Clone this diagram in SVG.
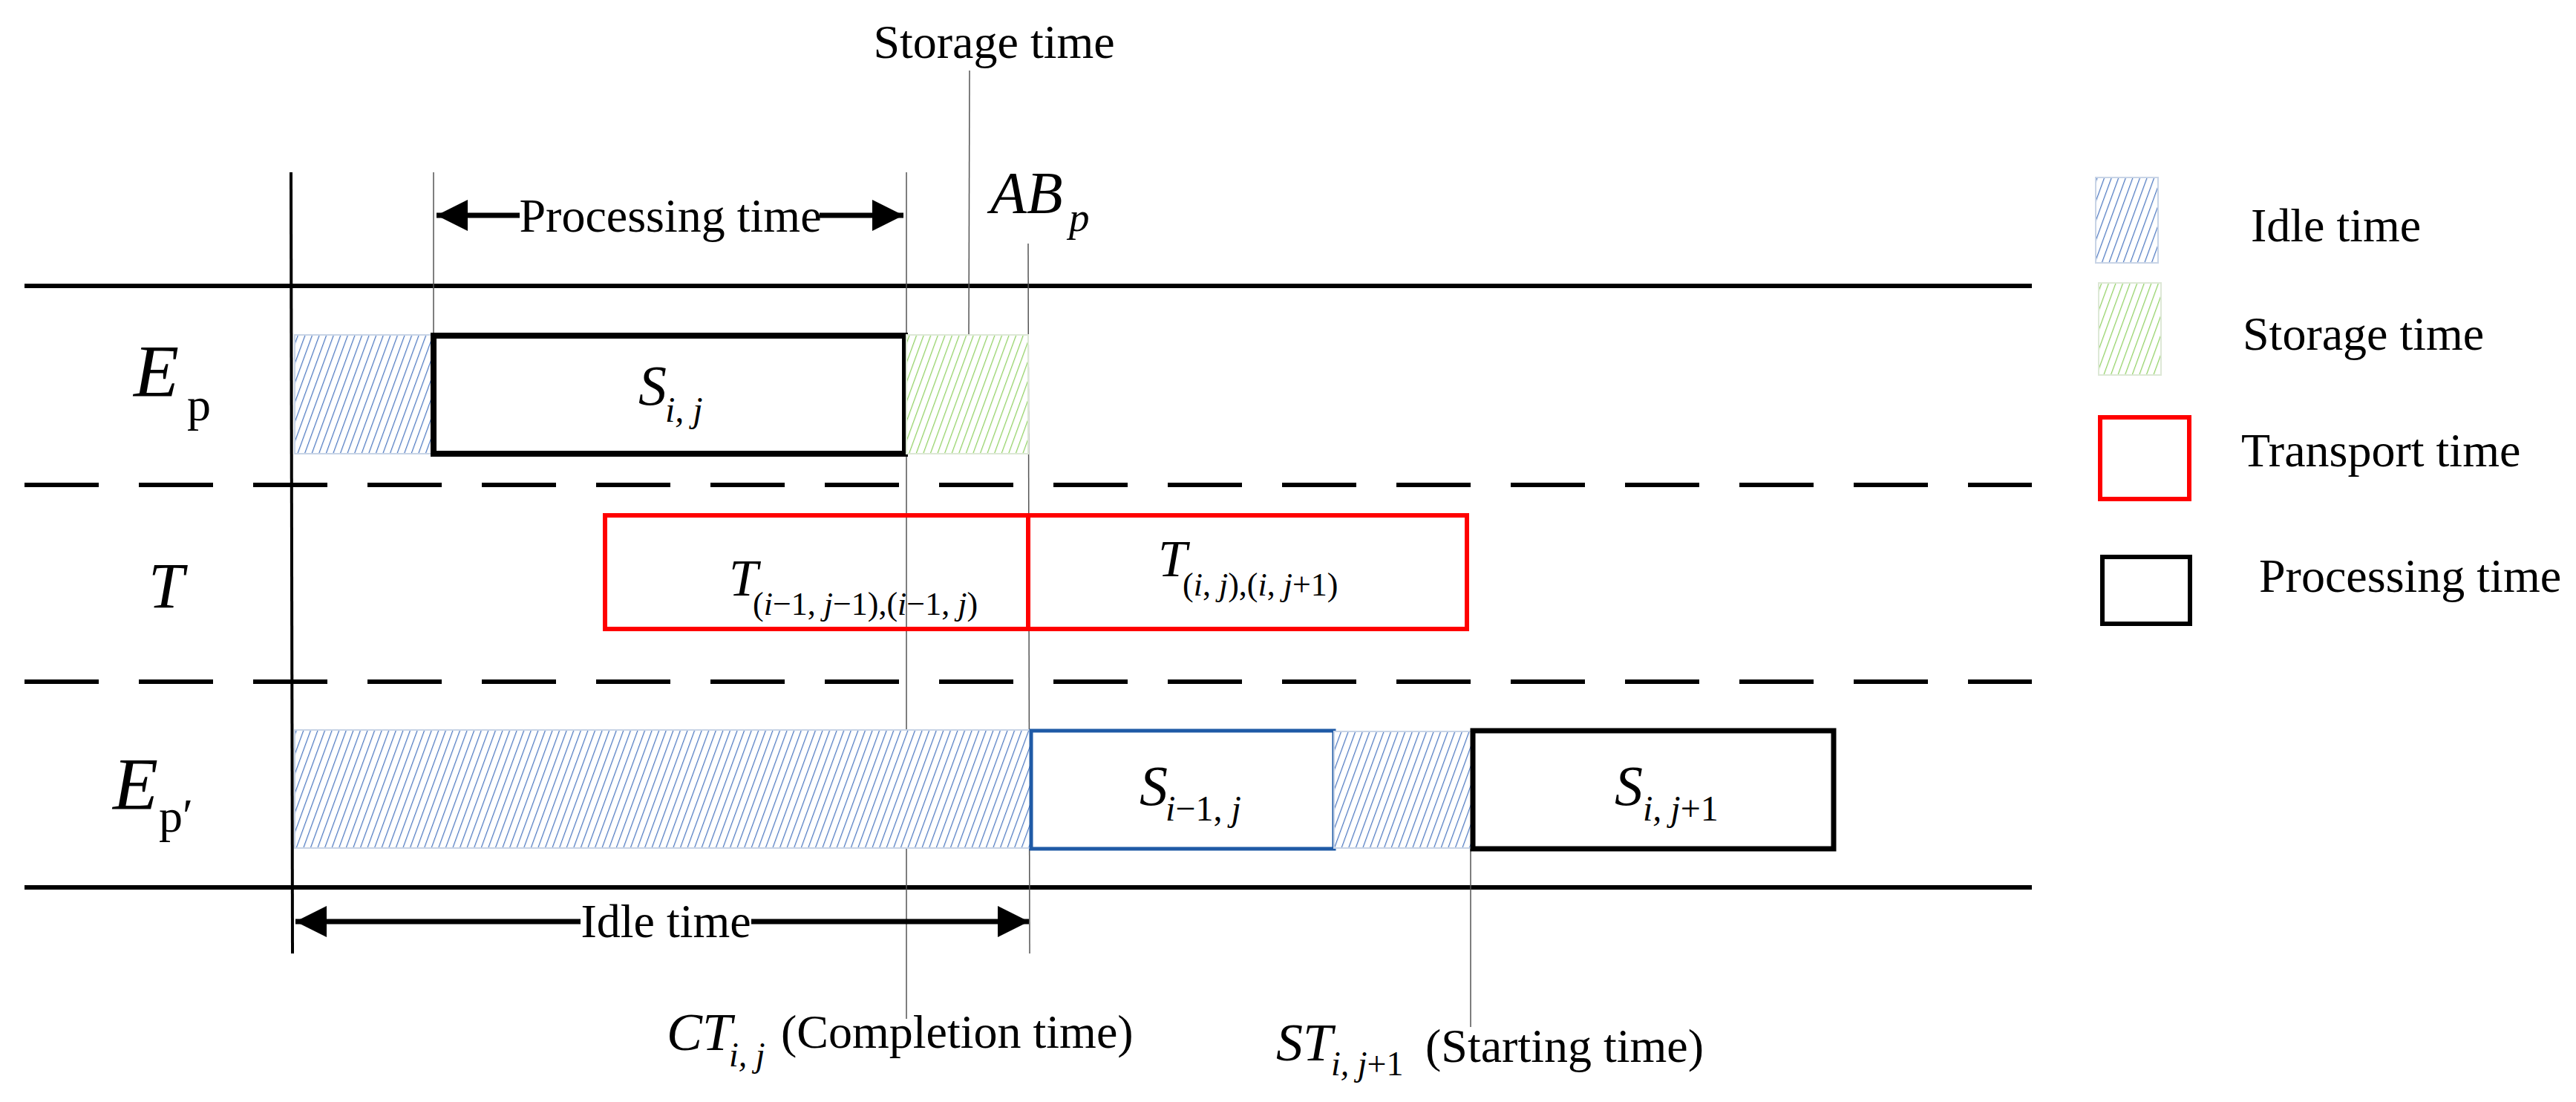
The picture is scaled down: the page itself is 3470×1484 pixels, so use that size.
<svg xmlns="http://www.w3.org/2000/svg" width="3470" height="1484" viewBox="0 0 3470 1484">
<defs>
<pattern id="hb" width="9" height="10" patternUnits="userSpaceOnUse" patternTransform="rotate(20)"><rect width="9" height="10" fill="#fff"/><line x1="0" y1="0" x2="0" y2="10" stroke="#4a76c0" stroke-width="2.4"/></pattern>
<pattern id="hg" width="9" height="10" patternUnits="userSpaceOnUse" patternTransform="rotate(20)"><rect width="9" height="10" fill="#fff"/><line x1="0" y1="0" x2="0" y2="10" stroke="#8fd060" stroke-width="2.4"/></pattern>
<marker id="ah" viewBox="0 0 10 10" refX="10" refY="5" markerWidth="6" markerHeight="7" markerUnits="strokeWidth" orient="auto"><path d="M0,0 L10,5 L0,10 z" fill="#000"/></marker>
</defs>
<style>
text{font-family:"Liberation Serif","Times New Roman",serif;fill:#000}
.t{font-size:64px}
.i{font-style:italic}
.solid{stroke:#000;stroke-width:6;fill:none}
.dash{stroke:#000;stroke-width:6;stroke-dasharray:100 54;fill:none}
.thin{stroke:#555;stroke-width:1.5;fill:none}
.arr{stroke:#000;stroke-width:7;fill:none;marker-end:url(#ah)}
</style>
<rect width="3470" height="1484" fill="#fff"/>
<g id="lanes">
<line class="solid" x1="33" y1="385" x2="2737" y2="385"/>
<line class="dash" x1="33" y1="653" x2="2737" y2="653"/>
<line class="dash" x1="33" y1="918" x2="2737" y2="918"/>
<line class="solid" x1="33" y1="1195" x2="2737" y2="1195"/>
<line stroke="#000" stroke-width="4" x1="392" y1="232" x2="394" y2="1284"/>
</g>
<g id="connectors">
<line class="thin" x1="584" y1="232" x2="584" y2="451"/>
<line class="thin" x1="1221" y1="232" x2="1221" y2="1372"/>
<line class="thin" x1="1385" y1="328" x2="1387" y2="1284"/>
<line class="thin" x1="1306" y1="95" x2="1305" y2="451"/>
<line class="thin" x1="1981" y1="985" x2="1981" y2="1383"/>
<line class="arr" x1="700" y1="290" x2="588" y2="290"/>
<line class="arr" x1="1104" y1="290" x2="1217" y2="290"/>
<line class="arr" x1="782" y1="1241" x2="398" y2="1241"/>
<line class="arr" x1="1012" y1="1241" x2="1386" y2="1241"/>
</g>
<g id="node-ep">
<text class="i" x="180" y="533" font-size="100">E</text><text x="252" y="566" font-size="64">p</text>
<rect x="397" y="451" width="185" height="160" fill="url(#hb)" stroke="#c8d4e6" stroke-width="2"/>
<rect x="584" y="452" width="635" height="159" fill="none" stroke="#000" stroke-width="8"/>
<text class="i" x="860" y="545" font-size="76">S</text><text class="i" x="896" y="568" font-size="48">i, j</text>
<rect x="1221" y="451" width="164" height="160" fill="url(#hg)" stroke="#dde8d6" stroke-width="2"/>
</g>
<g id="node-t">
<text class="i" x="200" y="818" font-size="86">T</text>
<rect x="815" y="694" width="570" height="153" fill="none" stroke="#f00" stroke-width="6"/>
<rect x="1385" y="694" width="591" height="153" fill="none" stroke="#f00" stroke-width="6"/>
<text class="i" x="982" y="802" font-size="70">T</text><text x="1014" y="828" font-size="44">(<tspan font-style="italic">i</tspan>−1, <tspan font-style="italic">j</tspan>−1),(<tspan font-style="italic">i</tspan>−1, <tspan font-style="italic">j</tspan>)</text>
<text class="i" x="1560" y="776" font-size="70">T</text><text x="1593" y="802" font-size="44">(<tspan font-style="italic">i</tspan>, <tspan font-style="italic">j</tspan>),(<tspan font-style="italic">i</tspan>, <tspan font-style="italic">j</tspan>+1)</text>
</g>
<g id="node-ep2">
<text class="i" x="152" y="1089" font-size="100">E</text><text x="214" y="1120" font-size="64">p′</text>
<rect x="397" y="983" width="991" height="159" fill="url(#hb)" stroke="#c8d4e6" stroke-width="2"/>
<rect x="1389" y="984" width="408" height="159" fill="none" stroke="#1f5aa6" stroke-width="5"/>
<text class="i" x="1535" y="1084" font-size="76">S</text><text x="1570" y="1105" font-size="48"><tspan font-style="italic">i</tspan>−1, <tspan font-style="italic">j</tspan></text>
<rect x="1797" y="985" width="186" height="157" fill="url(#hb)" stroke="#c8d4e6" stroke-width="2"/>
<rect x="1984" y="984" width="486" height="159" fill="none" stroke="#000" stroke-width="7"/>
<text class="i" x="2175" y="1084" font-size="76">S</text><text x="2213" y="1105" font-size="48"><tspan font-style="italic">i, j</tspan>+1</text>
</g>
<g id="labels">
<text class="t" x="1339" y="78" text-anchor="middle">Storage time</text>
<text class="t" x="903" y="312" text-anchor="middle">Processing time</text>
<text class="i" x="1334" y="287" font-size="80">AB</text><text class="i" x="1440" y="311" font-size="55">p</text>
<text class="t" x="897" y="1262" text-anchor="middle">Idle time</text>
<text class="i" x="898" y="1414" font-size="72">CT</text><text class="i" x="982" y="1436" font-size="46">i, j</text>
<text class="t" x="1052" y="1411">(Completion time)</text>
<text class="i" x="1719" y="1428" font-size="72">ST</text><text x="1793" y="1448" font-size="46"><tspan font-style="italic">i, j</tspan>+1</text>
<text class="t" x="1920" y="1430">(Starting time)</text>
</g>
<g id="legend">
<rect x="2823" y="239" width="84" height="115" fill="url(#hb)" stroke="#c8d4e6" stroke-width="2"/>
<text class="t" x="3032" y="325">Idle time</text>
<rect x="2827" y="381" width="84" height="124" fill="url(#hg)" stroke="#dde8d6" stroke-width="2"/>
<text class="t" x="3021" y="471">Storage time</text>
<rect x="2829" y="562" width="120" height="110" fill="none" stroke="#f00" stroke-width="6"/>
<text class="t" x="3019" y="628">Transport time</text>
<rect x="2832" y="750" width="118" height="90" fill="none" stroke="#000" stroke-width="6"/>
<text class="t" x="3043" y="797">Processing time</text>
</g>
</svg>
